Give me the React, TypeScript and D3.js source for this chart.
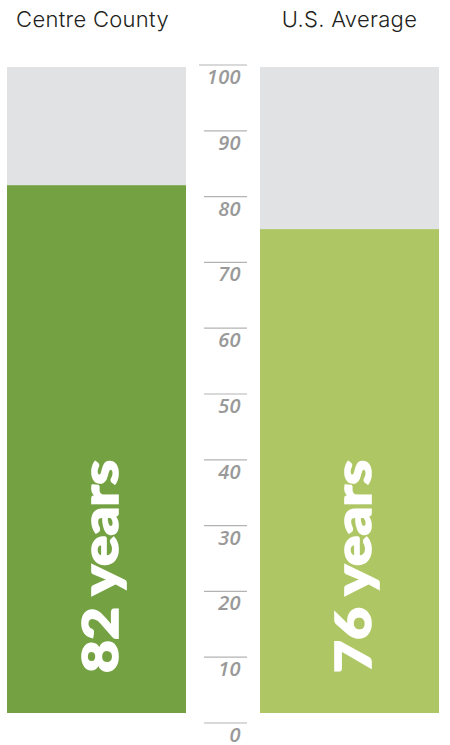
import React from "react";
import * as d3 from "d3";

const categories = ["Centre County", "U.S. Average"];
const barValues = [81.7, 74.9];
const valueLabels = ["82 years", "76 years"];
const barColors = ["#74a242", "#aec764"];
const tickValues = [0, 10, 20, 30, 40, 50, 60, 70, 80, 90, 100];

const W = 450;
const H = 745;

export default function App() {
  const x = d3.scaleOrdinal<string, number>().domain(categories).range([7, 260]);
  const barW = 179;
  const yBar = d3.scaleLinear().domain([0, 100]).range([713, 67]);
  const yAxis = d3.scaleLinear().domain([0, 100]).range([723, 65]);

  return (
    <svg
      width={W}
      height={H}
      style={{ position: "absolute", left: 0, top: 0, background: "#fff" }}
    >
      {categories.map((c, i) => {
        const x0 = x(c);
        const cx = x0 + barW / 2;
        return (
          <g key={c}>
            <text
              x={cx - (i === 0 ? 4 : 0)}
              y={27}
              textAnchor="middle"
              fontFamily="Inter, sans-serif"
              fontWeight={300}
              fontSize={22}
              letterSpacing={0.3}
              fill="#231f20"
            >
              {c}
            </text>
            <rect x={x0} y={yBar(100)} width={barW} height={yBar(0) - yBar(100)} fill="#e1e2e4" />
            <rect
              x={x0}
              y={yBar(barValues[i])}
              width={barW}
              height={yBar(0) - yBar(barValues[i])}
              fill={barColors[i]}
            />
            <text
              transform={`translate(${cx + 21},673) rotate(-90)`}
              fontFamily="Lato, sans-serif"
              fontWeight={900}
              fontSize={49}
              textLength={213}
              lengthAdjust="spacingAndGlyphs"
              stroke="#fff"
              strokeWidth={1.6}
              fill="#fff"
            >
              {valueLabels[i]}
            </text>
          </g>
        );
      })}
      {tickValues.map((t) => (
        <g key={t}>
          <line
            x1={t === 100 ? 199 : 204}
            x2={247}
            y1={yAxis(t)}
            y2={yAxis(t)}
            stroke="#b3b3b3"
            strokeWidth={1.2}
          />
          <text
            x={241}
            y={yAxis(t) + 19}
            textAnchor="end"
            fontFamily="'Open Sans', sans-serif"
            fontStyle="italic"
            fontWeight={600}
            fontSize={20}
            letterSpacing={0.4}
            fill="#999999"
          >
            {t}
          </text>
        </g>
      ))}
    </svg>
  );
}
